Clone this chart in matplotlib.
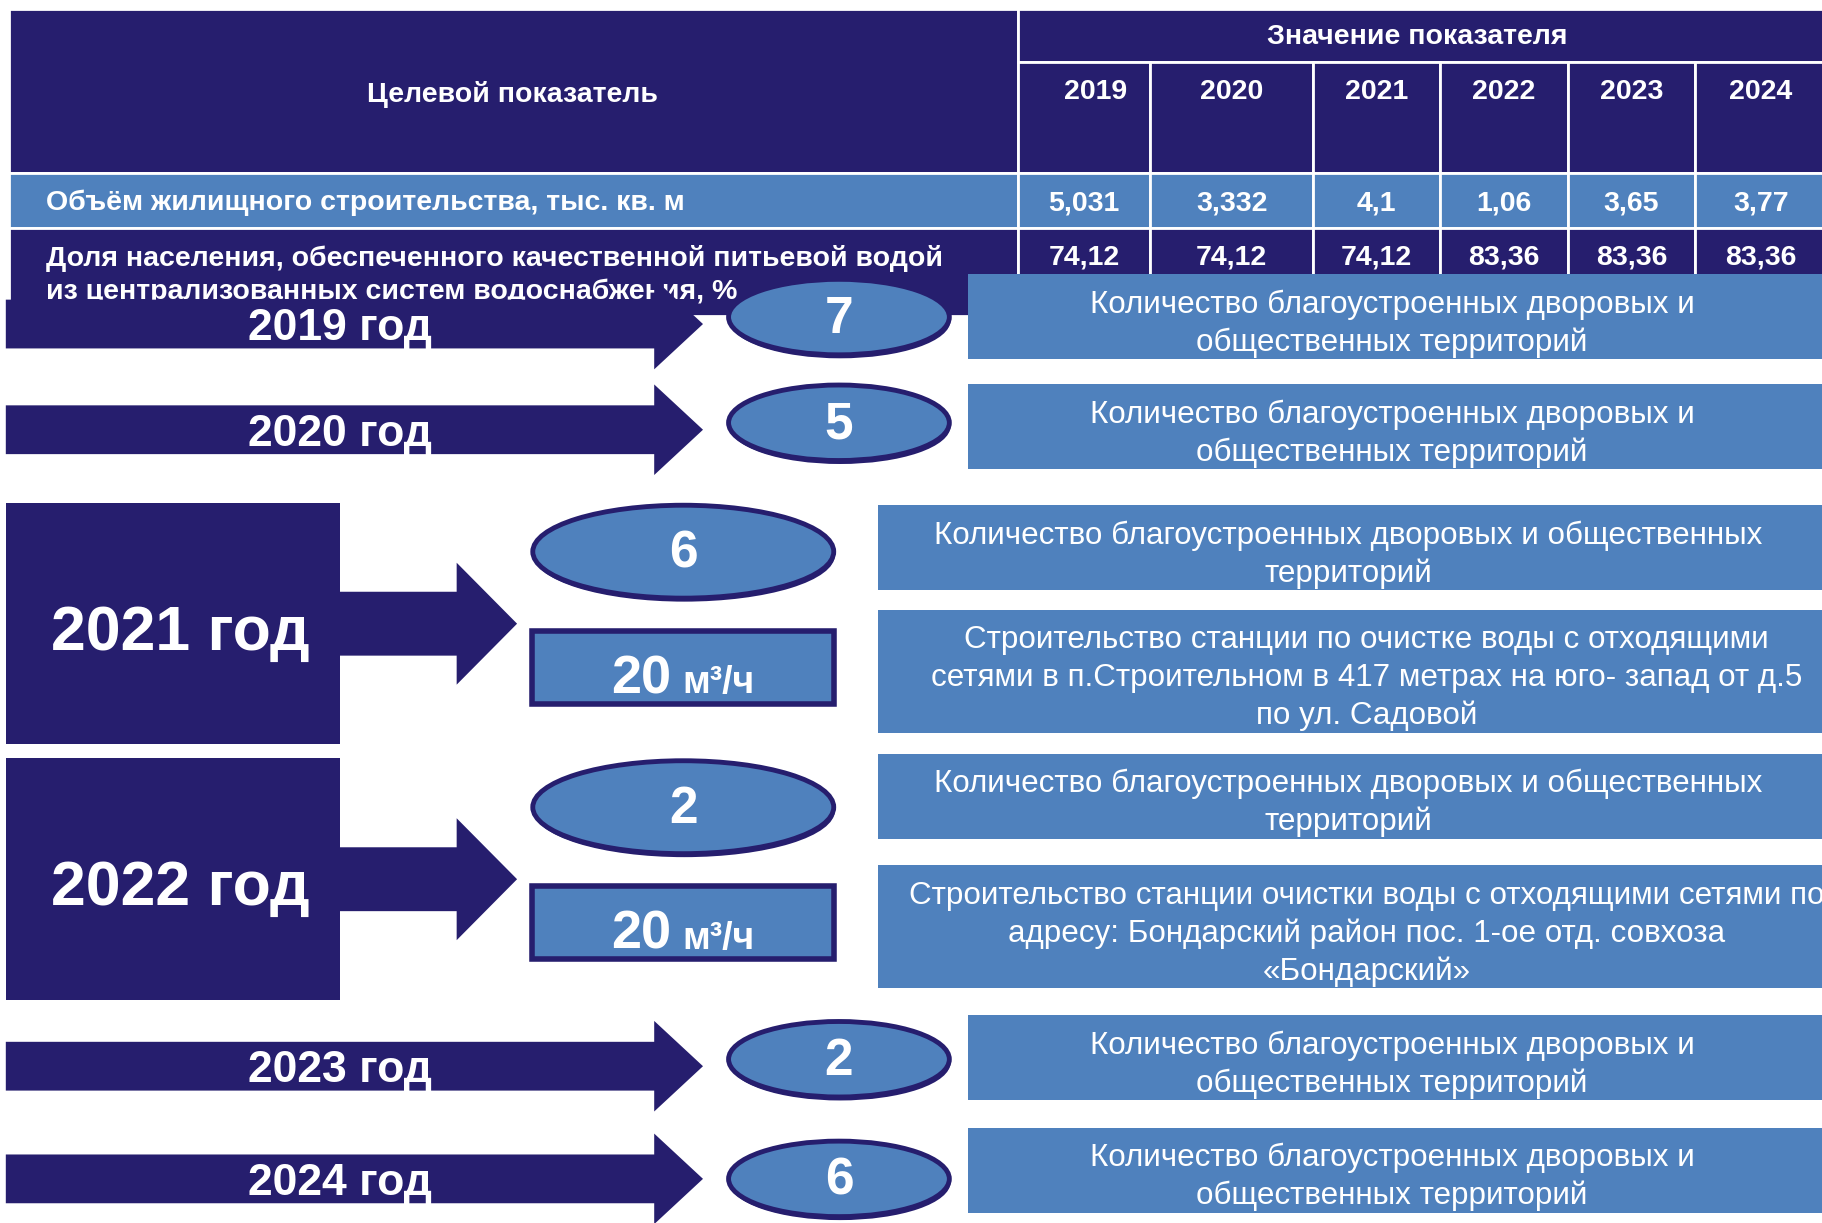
import matplotlib
matplotlib.use("Agg")
from matplotlib import pyplot as plt
from matplotlib.patches import Rectangle, Ellipse, FancyArrow

plt.rcParams['font.family'] = ['Liberation Sans', 'DejaVu Sans']

# Table data
table_years = ['2019', '2020', '2021', '2022', '2023', '2024']
housing_volume = ['5,031', '3,332', '4,1', '1,06', '3,65', '3,77']
water_share = ['74,12', '74,12', '74,12', '83,36', '83,36', '83,36']
row_labels = ['Объём жилищного строительства, тыс. кв. м',
              'Доля населения, обеспеченного качественной питьевой водой\n'
              'из централизованных систем водоснабжения, %']

# Timeline data
years = [2019, 2020, 2021, 2022, 2023, 2024]
yard_counts = [7, 5, 6, 2, 2, 6]
station_years = [2021, 2022]
station_capacity = [20, 20]
yard_text_short = 'Количество благоустроенных дворовых и\nобщественных территорий'
yard_text_wide = 'Количество благоустроенных дворовых и общественных\nтерриторий'
station_texts = [
    'Строительство станции по очистке воды с отходящими\n'
    'сетями в п.Строительном в 417 метрах на юго- запад от д.5\n'
    'по ул. Садовой',
    'Строительство станции очистки воды с отходящими сетями по\n'
    'адресу: Бондарский район пос. 1-ое отд. совхоза\n'
    '«Бондарский»',
]

DARK = '#261E6E'
LIGHT = '#4F81BD'

fig = plt.figure(figsize=(18.22, 12.23), dpi=100)
ax = fig.add_axes([0, 0, 1, 1])
ax.set_xlim(0, 1568)
ax.set_ylim(1053, 0)
ax.axis('off')

# ---- table ----
col_x = [8, 876, 990, 1130, 1239, 1349, 1459, 1572]
head_top, head_mid, head_bot = 8, 53, 149
row_y = [149, 196, 272]
TFS = 20.5


def cell(x0, y0, x1, y1, color):
    ax.add_patch(Rectangle((x0, y0), x1 - x0, y1 - y0, facecolor=color,
                           edgecolor='white', lw=2, zorder=1))


cell(col_x[0], head_top, col_x[1], head_bot, DARK)
cell(col_x[1], head_top, col_x[-1], head_mid, DARK)
ax.text(441, 81, 'Целевой показатель', color='white',
        fontsize=TFS, fontweight='bold', ha='center', va='center', zorder=2)
ax.text(1220, 32, 'Значение показателя', color='white', fontsize=TFS,
        fontweight='bold', ha='center', va='center', zorder=2)
for i, yr in enumerate(table_years):
    cell(col_x[i + 1], head_mid, col_x[i + 2], head_bot, DARK)
    xc = (col_x[i + 1] + col_x[i + 2]) / 2 + (10 if i == 0 else 0)
    ax.text(xc, 79, yr, color='white',
            fontsize=TFS, fontweight='bold', ha='center', va='center', zorder=2)

for r, (values, color) in enumerate([(housing_volume, LIGHT), (water_share, DARK)]):
    y0, y1 = row_y[r], row_y[r + 1]
    cell(col_x[0], y0, col_x[1], y1, color)
    for i, v in enumerate(values):
        cell(col_x[i + 1], y0, col_x[i + 2], y1, color)
        ax.text((col_x[i + 1] + col_x[i + 2]) / 2, y0 + 26, v, color='white',
                fontsize=TFS, fontweight='bold', ha='center', va='center', zorder=2)
    ax.text(40, y0 + 26 if r == 0 else y0 + 41, row_labels[r], color='white',
            fontsize=TFS, fontweight='bold', ha='left', va='center',
            linespacing=1.32, zorder=2)

# ---- timeline ----
def number_ellipse(xc, yc, w, h, label):
    ax.add_patch(Ellipse((xc + 1, yc + 3), w, h, facecolor=DARK,
                         edgecolor='none', zorder=4))
    ax.add_patch(Ellipse((xc, yc), w, h, facecolor=LIGHT, edgecolor=DARK,
                         lw=3.5, zorder=5))
    ax.text(xc, yc + 2, str(label), color='white', fontsize=37,
            fontweight='bold', ha='center', va='center', zorder=6)


def info_box(x0, y0, x1, h, text, xc):
    ax.add_patch(Rectangle((x0, y0), x1 - x0, h, facecolor=LIGHT,
                           edgecolor='none', zorder=4))
    ax.text(xc, y0 + h / 2 + 6, text, color='white', fontsize=22.6,
            ha='center', va='center', multialignment='center',
            linespacing=1.33, zorder=6)


compact_ell_y = {2019: 273, 2020: 364, 2023: 912, 2024: 1015}
compact_box_top = {2019: 236, 2020: 331, 2023: 874, 2024: 971}
block_top = {2021: 433, 2022: 653}

for yr, count in zip(years, yard_counts):
    if yr in compact_ell_y:
        ey = compact_ell_y[yr]
        ay = ey + 6 if yr != 2024 else ey
        ax.add_patch(FancyArrow(5, ay, 600, 0, width=42, head_width=78,
                                head_length=42, length_includes_head=True,
                                facecolor=DARK, edgecolor='none', zorder=3))
        ax.text(293, ay + 4, f'{yr} год', color='white', fontsize=32,
                fontweight='bold', ha='center', va='center', zorder=6)
        number_ellipse(722, ey, 190, 65, count)
        info_box(833, compact_box_top[yr], 1572, 73, yard_text_short, 1198)
    else:
        top = block_top[yr]
        ax.add_patch(Rectangle((5, top), 288, 208, facecolor=DARK,
                               edgecolor='none', zorder=3))
        ax.add_patch(FancyArrow(250, top + 104, 195, 0, width=55,
                                head_width=105, head_length=52,
                                length_includes_head=True, facecolor=DARK,
                                edgecolor='none', zorder=3))
        ax.text(155, top + 112, f'{yr} год', color='white', fontsize=45,
                fontweight='bold', ha='center', va='center', zorder=6)
        number_ellipse(588, top + 42, 259, 80, count)
        k = station_years.index(yr)
        ax.add_patch(Rectangle((458, top + 110), 260, 63, facecolor=LIGHT,
                               edgecolor=DARK, lw=4, zorder=5))
        ax.text(578, top + 164, str(station_capacity[k]), color='white',
                fontsize=39, fontweight='bold', ha='right', va='baseline',
                zorder=6)
        ax.text(587, top + 164, 'м³/ч', color='white', fontsize=27,
                fontweight='bold', ha='left', va='baseline', zorder=6)
        info_box(756, top + (2 if yr == 2021 else -4), 1572, 73,
                 yard_text_wide, 1160)
        info_box(756, top + 92, 1572, 106, station_texts[k], 1176)

fig.savefig('out.png', dpi=100)
